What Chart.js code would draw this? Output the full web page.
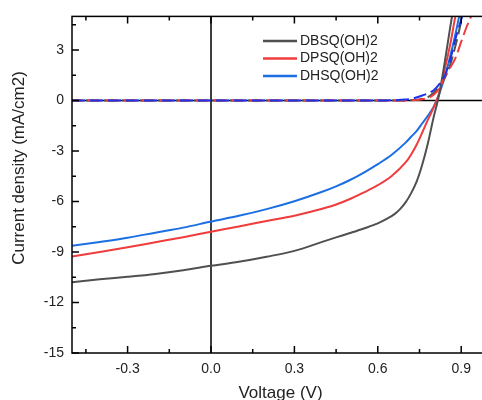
<!DOCTYPE html>
<html>
<head>
<meta charset="utf-8">
<script src="https://cdn.jsdelivr.net/npm/chart.js@4.4.0/dist/chart.umd.min.js"></script>
<style>
  html, body { margin: 0; padding: 0; background: #fff; overflow: hidden; }
  #wrap { width: 492px; height: 400px; }
</style>
</head>
<body>
<div id="wrap"><canvas id="chartCanvas" width="492" height="400"></canvas></div>
<script>
// light J-V curves (solid)
const dbsqV = [-0.5, -0.4, -0.3, -0.2, -0.1, 0, 0.1, 0.2, 0.3, 0.4, 0.45, 0.5, 0.55, 0.6, 0.63, 0.66, 0.68, 0.7, 0.72, 0.74, 0.76, 0.78, 0.8, 0.82, 0.84, 0.86, 0.88];
const dbsqJ = [-10.8, -10.62, -10.47, -10.3, -10.08, -9.82, -9.58, -9.28, -8.93, -8.4, -8.13, -7.87, -7.6, -7.3, -7.05, -6.75, -6.45, -6.05, -5.5, -4.8, -3.8, -2.55, -1.05, 0.3, 2.2, 4.3, 6.3];

const dpsqV = [-0.5, -0.4, -0.3, -0.2, -0.1, 0, 0.1, 0.2, 0.3, 0.4, 0.45, 0.5, 0.55, 0.6, 0.65, 0.7, 0.72, 0.74, 0.76, 0.78, 0.8, 0.82, 0.84, 0.86, 0.88, 0.9];
const dpsqJ = [-9.26, -9.0, -8.72, -8.42, -8.12, -7.79, -7.48, -7.16, -6.84, -6.43, -6.18, -5.85, -5.46, -5.03, -4.48, -3.68, -3.2, -2.61, -1.9, -1.15, -0.45, 0.4, 1.8, 3.3, 5.1, 6.8];

const dhsqV = [-0.5, -0.4, -0.3, -0.2, -0.1, 0, 0.1, 0.2, 0.3, 0.4, 0.45, 0.5, 0.55, 0.6, 0.65, 0.7, 0.72, 0.74, 0.76, 0.78, 0.8, 0.82, 0.84, 0.86, 0.88, 0.9, 0.92];
const dhsqJ = [-8.63, -8.4, -8.15, -7.85, -7.55, -7.19, -6.85, -6.45, -5.98, -5.42, -5.1, -4.72, -4.28, -3.78, -3.22, -2.5, -2.15, -1.8, -1.35, -0.9, -0.4, 0.35, 1.35, 2.6, 4.0, 5.6, 7.2];

// dark curves (dashed)
const dbsqDarkV = [-0.5, 0, 0.4, 0.6, 0.7, 0.74, 0.78, 0.8, 0.82, 0.84, 0.86, 0.88, 0.9, 0.92];
const dbsqDarkJ = [0, 0, 0, 0, 0.01, 0.05, 0.2, 0.45, 0.8, 1.3, 2.1, 3.3, 4.7, 6.3];

const dpsqDarkV = [-0.5, 0, 0.4, 0.6, 0.7, 0.74, 0.78, 0.8, 0.82, 0.84, 0.86, 0.88, 0.9, 0.92, 0.94, 0.96];
const dpsqDarkJ = [0, 0, 0, 0, 0.01, 0.04, 0.15, 0.33, 0.7, 1.4, 1.95, 2.55, 3.5, 4.4, 5.2, 6.3];

const dhsqDarkV = [-0.5, 0, 0.4, 0.6, 0.66, 0.7, 0.72, 0.76, 0.8, 0.82, 0.84, 0.86, 0.88, 0.9, 0.92];
const dhsqDarkJ = [0, 0, 0, 0, 0.02, 0.06, 0.1, 0.3, 0.6, 0.95, 1.45, 2.4, 3.7, 4.8, 5.9];

const legendLabels = ["DBSQ(OH)2", "DPSQ(OH)2", "DHSQ(OH)2"];
const lineColors = ["#505050", "#f03c3c", "#1c6fe3"];
const darkBlue = "#1b34ea";

const xMajor = [-0.3, 0, 0.3, 0.6, 0.9];
const xMinor = [-0.45, -0.15, 0.15, 0.45, 0.75];
const yMajor = [-15, -12, -9, -6, -3, 0, 3];
const yMinor = [-13.5, -10.5, -7.5, -4.5, -1.5, 1.5, 4.5];

const yTitle = "Current density (mA/cm2)";
const fontFamily = "'Liberation Sans', Arial, sans-serif";

function toPoints(xs, ys) {
  return xs.map((v, i) => ({ x: v, y: ys[i] }));
}

function lineSet(label, xs, ys, color, dashOffset, order) {
  return {
    label: label,
    data: toPoints(xs, ys),
    borderColor: color,
    borderWidth: 2,
    borderDash: dashOffset === null ? [] : [13, 5],
    borderDashOffset: dashOffset || 0,
    pointRadius: 0,
    fill: false,
    cubicInterpolationMode: "monotone",
    order: order,
  };
}

// zero lines under the curves, frame + inward ticks + legend on top
const frameAxes = {
  id: "frameAxes",
  beforeDatasetsDraw(chart) {
    const { ctx, chartArea: a, scales } = chart;
    const px = scales.x.getPixelForValue(0);
    const py = scales.y.getPixelForValue(0);
    ctx.save();
    ctx.strokeStyle = "#000";
    ctx.lineWidth = 1.5;
    ctx.beginPath();
    ctx.moveTo(px, a.top);
    ctx.lineTo(px, a.bottom);
    ctx.moveTo(a.left, py);
    ctx.lineTo(a.right, py);
    ctx.stroke();
    ctx.restore();
  },
  afterDraw(chart) {
    const { ctx, chartArea: a, scales } = chart;
    ctx.save();
    ctx.strokeStyle = "#000";
    ctx.lineWidth = 1.5;
    ctx.strokeRect(a.left, a.top, a.right - a.left, a.bottom - a.top);

    ctx.beginPath();
    const xTick = (v, len) => {
      const p = scales.x.getPixelForValue(v);
      ctx.moveTo(p, a.bottom);
      ctx.lineTo(p, a.bottom - len);
      ctx.moveTo(p, a.top);
      ctx.lineTo(p, a.top + len);
    };
    const yTick = (v, len) => {
      const p = scales.y.getPixelForValue(v);
      ctx.moveTo(a.left, p);
      ctx.lineTo(a.left + len, p);
      ctx.moveTo(a.right, p);
      ctx.lineTo(a.right - len, p);
    };
    xMajor.forEach((v) => xTick(v, 7));
    xMinor.forEach((v) => xTick(v, 4));
    yMajor.forEach((v) => yTick(v, 7));
    yMinor.forEach((v) => yTick(v, 4));
    ctx.stroke();

    // y axis title (sits a bit above the plot centre in the original)
    ctx.fillStyle = "#222";
    ctx.font = "17px " + fontFamily;
    ctx.textAlign = "center";
    ctx.textBaseline = "middle";
    ctx.save();
    ctx.translate(19, 168);
    ctx.rotate(-Math.PI / 2);
    ctx.fillText(yTitle, 0, 0);
    ctx.restore();

    // legend
    ctx.font = "14px " + fontFamily;
    ctx.textAlign = "left";
    legendLabels.forEach((name, i) => {
      const ly = 41 + i * 17.5;
      ctx.strokeStyle = lineColors[i];
      ctx.lineWidth = 2.5;
      ctx.beginPath();
      ctx.moveTo(263, ly);
      ctx.lineTo(297, ly);
      ctx.stroke();
      ctx.fillText(name, 300, ly);
    });
    ctx.restore();
  },
};

const ctx = document.getElementById("chartCanvas").getContext("2d");

new Chart(ctx, {
  type: "line",
  data: {
    datasets: [
      lineSet("DBSQ(OH)2 dark", dbsqDarkV, dbsqDarkJ, lineColors[0], 4, 3),
      lineSet("DPSQ(OH)2 dark", dpsqDarkV, dpsqDarkJ, lineColors[1], 2, 2),
      lineSet("DHSQ(OH)2 dark", dhsqDarkV, dhsqDarkJ, darkBlue, 0, 1),
      lineSet("DBSQ(OH)2", dbsqV, dbsqJ, lineColors[0], null, 4),
      lineSet("DPSQ(OH)2", dpsqV, dpsqJ, lineColors[1], null, 5),
      lineSet("DHSQ(OH)2", dhsqV, dhsqJ, lineColors[2], null, 6),
    ],
  },
  options: {
    responsive: false,
    animation: false,
    layout: { padding: { top: 15, right: 3, left: 0, bottom: 0 } },
    plugins: {
      legend: { display: false },
      tooltip: { enabled: false },
    },
    scales: {
      x: {
        type: "linear",
        min: -0.5,
        max: 1.0,
        afterBuildTicks: (s) => {
          s.ticks = xMajor.map((v) => ({ value: v }));
        },
        afterFit: (s) => {
          s.height = 47;
        },
        grid: { display: false, drawTicks: false },
        border: { display: false },
        ticks: {
          callback: (v) => v.toFixed(1),
          color: "#222",
          font: { family: fontFamily, size: 14 },
          padding: 8,
          maxRotation: 0,
        },
        title: {
          display: true,
          text: "Voltage (V)",
          color: "#222",
          font: { family: fontFamily, size: 17 },
          padding: { top: 0, bottom: -4 },
        },
      },
      y: {
        type: "linear",
        min: -15,
        max: 5,
        afterBuildTicks: (s) => {
          s.ticks = yMajor.map((v) => ({ value: v }));
        },
        afterFit: (s) => {
          s.width = 72;
        },
        grid: { display: false, drawTicks: false },
        border: { display: false },
        ticks: {
          callback: (v) => String(v),
          color: "#222",
          font: { family: fontFamily, size: 14 },
          padding: 8,
        },
      },
    },
  },
  plugins: [frameAxes],
});
</script>
</body>
</html>
